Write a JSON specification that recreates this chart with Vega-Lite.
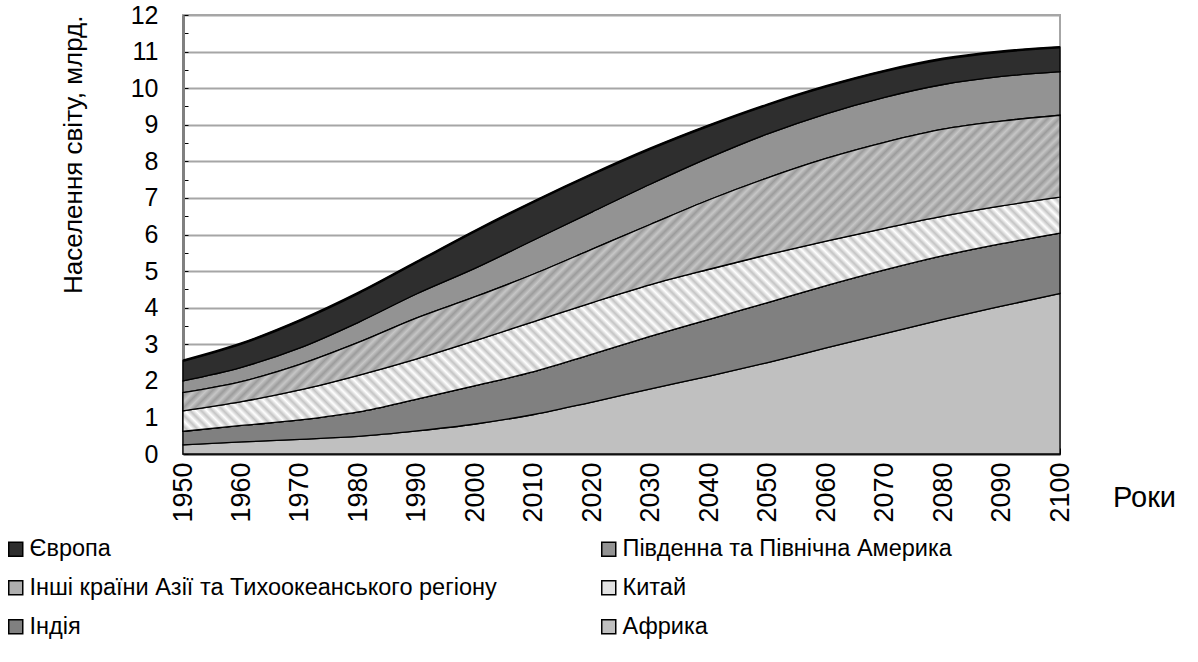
{
  "$schema": "https://vega.github.io/schema/vega-lite/v6.json",
  "width": 877,
  "height": 439,
  "autosize": {"type": "none"},
  "padding": {"left": 183, "top": 15, "right": 138, "bottom": 208},
  "background": "white",
  "config": {
    "font": "Liberation Sans",
    "view": {"stroke": "#a6a6a6", "strokeWidth": 2},
    "axis": {"labelOverlap": false}
  },
  "resolve": {"axis": {"x": "independent", "y": "independent"}},
  "data": {
    "values": [
      {"year": 1950, "Африка": 0.25, "Індія": 0.37, "Китай": 0.56, "Інші країни Азії та Тихоокеанського регіону": 0.50, "Південна та Північна Америка": 0.32, "Європа": 0.55},
      {"year": 1960, "Африка": 0.33, "Індія": 0.45, "Китай": 0.65, "Інші країни Азії та Тихоокеанського регіону": 0.55, "Південна та Північна Америка": 0.39, "Європа": 0.65},
      {"year": 1970, "Африка": 0.40, "Індія": 0.53, "Китай": 0.82, "Інші країни Азії та Тихоокеанського регіону": 0.70, "Південна та Північна Америка": 0.45, "Європа": 0.75},
      {"year": 1980, "Африка": 0.48, "Індія": 0.67, "Китай": 1.00, "Інші країни Азії та Тихоокеанського регіону": 0.90, "Південна та Північна Америка": 0.55, "Європа": 0.80},
      {"year": 1990, "Африка": 0.63, "Індія": 0.87, "Китай": 1.10, "Інші країни Азії та Тихоокеанського регіону": 1.12, "Південна та Північна Америка": 0.66, "Європа": 0.87},
      {"year": 2000, "Африка": 0.82, "Індія": 1.05, "Китай": 1.23, "Інші країни Азії та Тихоокеанського регіону": 1.20, "Південна та Північна Америка": 0.78, "Європа": 1.02},
      {"year": 2010, "Африка": 1.08, "Індія": 1.17, "Китай": 1.37, "Інші країни Азії та Тихоокеанського регіону": 1.30, "Південна та Північна Америка": 0.93, "Європа": 1.05},
      {"year": 2020, "Африка": 1.42, "Індія": 1.31, "Китай": 1.41, "Інші країни Азії та Тихоокеанського регіону": 1.46, "Південна та Північна Америка": 1.02, "Європа": 1.03},
      {"year": 2030, "Африка": 1.78, "Індія": 1.44, "Китай": 1.41, "Інші країни Азії та Тихоокеанського регіону": 1.65, "Південна та Північна Америка": 1.10, "Європа": 0.97},
      {"year": 2040, "Африка": 2.13, "Індія": 1.55, "Китай": 1.37, "Інші країни Азії та Тихоокеанського регіону": 1.90, "Південна та Північна Америка": 1.15, "Європа": 0.88},
      {"year": 2050, "Африка": 2.50, "Індія": 1.64, "Китай": 1.31, "Інші країни Азії та Тихоокеанського регіону": 2.10, "Південна та Північна Америка": 1.20, "Європа": 0.80},
      {"year": 2060, "Африка": 2.90, "Індія": 1.70, "Китай": 1.22, "Інші країни Азії та Тихоокеанського регіону": 2.26, "Південна та Північна Америка": 1.22, "Європа": 0.75},
      {"year": 2070, "Африка": 3.29, "Індія": 1.74, "Китай": 1.14, "Інші країни Азії та Тихоокеанського регіону": 2.35, "Південна та Північна Америка": 1.23, "Європа": 0.72},
      {"year": 2080, "Африка": 3.68, "Індія": 1.74, "Китай": 1.08, "Інші країни Азії та Тихоокеанського регіону": 2.38, "Південна та Північна Америка": 1.22, "Європа": 0.70},
      {"year": 2090, "Африка": 4.04, "Індія": 1.71, "Китай": 1.03, "Інші країни Азії та Тихоокеанського регіону": 2.32, "Південна та Північна Америка": 1.22, "Європа": 0.68},
      {"year": 2100, "Африка": 4.39, "Індія": 1.65, "Китай": 0.98, "Інші країни Азії та Тихоокеанського регіону": 2.24, "Південна та Північна Америка": 1.19, "Європа": 0.67}
    ]
  },
  "transform": [
    {"fold": ["Африка", "Індія", "Китай", "Інші країни Азії та Тихоокеанського регіону", "Південна та Північна Америка", "Європа"], "as": ["region", "value"]},
    {"calculate": "indexof(['Африка', 'Індія', 'Китай', 'Інші країни Азії та Тихоокеанського регіону', 'Південна та Північна Америка', 'Європа'], datum.region)", "as": "ord"}
  ],
  "layer": [
    {
      "mark": {"type": "area", "interpolate": "monotone", "stroke": "#000", "strokeWidth": 1.3},
      "encoding": {
        "x": {
          "field": "year", "type": "quantitative",
          "scale": {"domain": [1950, 2100], "nice": false, "zero": false},
          "axis": {
            "values": [1950, 1955, 1960, 1965, 1970, 1975, 1980, 1985, 1990, 1995, 2000, 2005, 2010, 2015, 2020, 2025, 2030, 2035, 2040, 2045, 2050, 2055, 2060, 2065, 2070, 2075, 2080, 2085, 2090, 2095, 2100],
            "labelExpr": "datum.value % 10 === 0 ? datum.value + '' : ''",
            "labelAngle": -90,
            "labelFontSize": 27,
            "labelColor": "#000",
            "labelPadding": 14,
            "labelFlush": false,
            "labelOverlap": false,
            "tickSize": -6,
            "tickColor": "#000",
            "tickWidth": 1,
            "domainColor": "#404040",
            "domainWidth": 2,
            "grid": false,
            "title": "Роки",
            "titleFontSize": 29,
            "titleFontWeight": "normal",
            "titleColor": "#000",
            "titleX": 961,
            "titleY": 43,
            "titleAlign": "center",
            "titleBaseline": "middle"
          }
        },
        "y": {
          "field": "value", "type": "quantitative", "stack": "zero",
          "scale": {"domain": [0, 12], "nice": false},
          "axis": {
            "values": [0, 0.5, 1, 1.5, 2, 2.5, 3, 3.5, 4, 4.5, 5, 5.5, 6, 6.5, 7, 7.5, 8, 8.5, 9, 9.5, 10, 10.5, 11, 11.5, 12],
            "labelExpr": "datum.value % 1 === 0 ? datum.value + '' : ''",
            "labelFontSize": 25,
            "labelColor": "#000",
            "labelPadding": 30,
            "labelOverlap": false,
            "grid": true,
            "gridColor": {"condition": {"test": "datum.value % 1 !== 0", "value": "rgba(0,0,0,0)"}, "value": "#a6a6a6"},
            "gridWidth": 2,
            "tickSize": -5,
            "tickColor": "#000",
            "domainColor": "#808080",
            "domainWidth": 3,
            "title": "Населення світу, млрд.",
            "titleFontSize": 26,
            "titleFontWeight": "normal",
            "titleColor": "#000",
            "titleAnchor": "end",
            "titlePadding": 44
          }
        },
        "color": {
          "field": "region", "type": "nominal",
          "scale": {
            "domain": ["Європа", "Південна та Північна Америка", "Інші країни Азії та Тихоокеанського регіону", "Китай", "Індія", "Африка"],
            "range": ["#2e2e2e", "#939393", "#afafaf", "#e2e2e2", "#808080", "#c0c0c0"]
          },
          "legend": {
            "orient": "none",
            "legendX": -179,
            "legendY": 522,
            "direction": "horizontal",
            "columns": 2,
            "title": null,
            "symbolType": "square",
            "symbolSize": 196,
            "symbolStrokeColor": "#000",
            "symbolStrokeWidth": 1.5,
            "labelFontSize": 23.5,
            "labelColor": "#000",
            "labelLimit": 700,
            "labelOffset": 2,
            "rowPadding": 14,
            "columnPadding": 100
          }
        },
        "order": {"field": "ord", "type": "quantitative"}
      }
    },
    {
      "transform": [
        {"stack": "value", "groupby": ["year"], "sort": [{"field": "ord"}], "as": ["v0", "v1"]},
        {"filter": "datum.region === 'Китай'"}
      ],
      "mark": {
        "type": "area", "interpolate": "monotone", "stroke": "#000", "strokeWidth": 1.3,
        "color": {"gradient": "linear", "x1": 0, "y1": 1, "x2": 1.1827, "y2": 0.6842, "stops": [
          {"offset": 0, "color": "#fff"}, {"offset": 0.005, "color": "#c4c4c4"}, {"offset": 0.01, "color": "#fff"}, {"offset": 0.015, "color": "#c4c4c4"}, {"offset": 0.02, "color": "#fff"}, {"offset": 0.025, "color": "#c4c4c4"}, {"offset": 0.03, "color": "#fff"}, {"offset": 0.035, "color": "#c4c4c4"}, {"offset": 0.04, "color": "#fff"}, {"offset": 0.045, "color": "#c4c4c4"},
          {"offset": 0.05, "color": "#fff"}, {"offset": 0.055, "color": "#c4c4c4"}, {"offset": 0.06, "color": "#fff"}, {"offset": 0.065, "color": "#c4c4c4"}, {"offset": 0.07, "color": "#fff"}, {"offset": 0.075, "color": "#c4c4c4"}, {"offset": 0.08, "color": "#fff"}, {"offset": 0.085, "color": "#c4c4c4"}, {"offset": 0.09, "color": "#fff"}, {"offset": 0.095, "color": "#c4c4c4"},
          {"offset": 0.1, "color": "#fff"}, {"offset": 0.105, "color": "#c4c4c4"}, {"offset": 0.11, "color": "#fff"}, {"offset": 0.115, "color": "#c4c4c4"}, {"offset": 0.12, "color": "#fff"}, {"offset": 0.125, "color": "#c4c4c4"}, {"offset": 0.13, "color": "#fff"}, {"offset": 0.135, "color": "#c4c4c4"}, {"offset": 0.14, "color": "#fff"}, {"offset": 0.145, "color": "#c4c4c4"},
          {"offset": 0.15, "color": "#fff"}, {"offset": 0.155, "color": "#c4c4c4"}, {"offset": 0.16, "color": "#fff"}, {"offset": 0.165, "color": "#c4c4c4"}, {"offset": 0.17, "color": "#fff"}, {"offset": 0.175, "color": "#c4c4c4"}, {"offset": 0.18, "color": "#fff"}, {"offset": 0.185, "color": "#c4c4c4"}, {"offset": 0.19, "color": "#fff"}, {"offset": 0.195, "color": "#c4c4c4"},
          {"offset": 0.2, "color": "#fff"}, {"offset": 0.205, "color": "#c4c4c4"}, {"offset": 0.21, "color": "#fff"}, {"offset": 0.215, "color": "#c4c4c4"}, {"offset": 0.22, "color": "#fff"}, {"offset": 0.225, "color": "#c4c4c4"}, {"offset": 0.23, "color": "#fff"}, {"offset": 0.235, "color": "#c4c4c4"}, {"offset": 0.24, "color": "#fff"}, {"offset": 0.245, "color": "#c4c4c4"},
          {"offset": 0.25, "color": "#fff"}, {"offset": 0.255, "color": "#c4c4c4"}, {"offset": 0.26, "color": "#fff"}, {"offset": 0.265, "color": "#c4c4c4"}, {"offset": 0.27, "color": "#fff"}, {"offset": 0.275, "color": "#c4c4c4"}, {"offset": 0.28, "color": "#fff"}, {"offset": 0.285, "color": "#c4c4c4"}, {"offset": 0.29, "color": "#fff"}, {"offset": 0.295, "color": "#c4c4c4"},
          {"offset": 0.3, "color": "#fff"}, {"offset": 0.305, "color": "#c4c4c4"}, {"offset": 0.31, "color": "#fff"}, {"offset": 0.315, "color": "#c4c4c4"}, {"offset": 0.32, "color": "#fff"}, {"offset": 0.325, "color": "#c4c4c4"}, {"offset": 0.33, "color": "#fff"}, {"offset": 0.335, "color": "#c4c4c4"}, {"offset": 0.34, "color": "#fff"}, {"offset": 0.345, "color": "#c4c4c4"},
          {"offset": 0.35, "color": "#fff"}, {"offset": 0.355, "color": "#c4c4c4"}, {"offset": 0.36, "color": "#fff"}, {"offset": 0.365, "color": "#c4c4c4"}, {"offset": 0.37, "color": "#fff"}, {"offset": 0.375, "color": "#c4c4c4"}, {"offset": 0.38, "color": "#fff"}, {"offset": 0.385, "color": "#c4c4c4"}, {"offset": 0.39, "color": "#fff"}, {"offset": 0.395, "color": "#c4c4c4"},
          {"offset": 0.4, "color": "#fff"}, {"offset": 0.405, "color": "#c4c4c4"}, {"offset": 0.41, "color": "#fff"}, {"offset": 0.415, "color": "#c4c4c4"}, {"offset": 0.42, "color": "#fff"}, {"offset": 0.425, "color": "#c4c4c4"}, {"offset": 0.43, "color": "#fff"}, {"offset": 0.435, "color": "#c4c4c4"}, {"offset": 0.44, "color": "#fff"}, {"offset": 0.445, "color": "#c4c4c4"},
          {"offset": 0.45, "color": "#fff"}, {"offset": 0.455, "color": "#c4c4c4"}, {"offset": 0.46, "color": "#fff"}, {"offset": 0.465, "color": "#c4c4c4"}, {"offset": 0.47, "color": "#fff"}, {"offset": 0.475, "color": "#c4c4c4"}, {"offset": 0.48, "color": "#fff"}, {"offset": 0.485, "color": "#c4c4c4"}, {"offset": 0.49, "color": "#fff"}, {"offset": 0.495, "color": "#c4c4c4"},
          {"offset": 0.5, "color": "#fff"}, {"offset": 0.505, "color": "#c4c4c4"}, {"offset": 0.51, "color": "#fff"}, {"offset": 0.515, "color": "#c4c4c4"}, {"offset": 0.52, "color": "#fff"}, {"offset": 0.525, "color": "#c4c4c4"}, {"offset": 0.53, "color": "#fff"}, {"offset": 0.535, "color": "#c4c4c4"}, {"offset": 0.54, "color": "#fff"}, {"offset": 0.545, "color": "#c4c4c4"},
          {"offset": 0.55, "color": "#fff"}, {"offset": 0.555, "color": "#c4c4c4"}, {"offset": 0.56, "color": "#fff"}, {"offset": 0.565, "color": "#c4c4c4"}, {"offset": 0.57, "color": "#fff"}, {"offset": 0.575, "color": "#c4c4c4"}, {"offset": 0.58, "color": "#fff"}, {"offset": 0.585, "color": "#c4c4c4"}, {"offset": 0.59, "color": "#fff"}, {"offset": 0.595, "color": "#c4c4c4"},
          {"offset": 0.6, "color": "#fff"}, {"offset": 0.605, "color": "#c4c4c4"}, {"offset": 0.61, "color": "#fff"}, {"offset": 0.615, "color": "#c4c4c4"}, {"offset": 0.62, "color": "#fff"}, {"offset": 0.625, "color": "#c4c4c4"}, {"offset": 0.63, "color": "#fff"}, {"offset": 0.635, "color": "#c4c4c4"}, {"offset": 0.64, "color": "#fff"}, {"offset": 0.645, "color": "#c4c4c4"},
          {"offset": 0.65, "color": "#fff"}, {"offset": 0.655, "color": "#c4c4c4"}, {"offset": 0.66, "color": "#fff"}, {"offset": 0.665, "color": "#c4c4c4"}, {"offset": 0.67, "color": "#fff"}, {"offset": 0.675, "color": "#c4c4c4"}, {"offset": 0.68, "color": "#fff"}, {"offset": 0.685, "color": "#c4c4c4"}, {"offset": 0.69, "color": "#fff"}, {"offset": 0.695, "color": "#c4c4c4"},
          {"offset": 0.7, "color": "#fff"}, {"offset": 0.705, "color": "#c4c4c4"}, {"offset": 0.71, "color": "#fff"}, {"offset": 0.715, "color": "#c4c4c4"}, {"offset": 0.72, "color": "#fff"}, {"offset": 0.725, "color": "#c4c4c4"}, {"offset": 0.73, "color": "#fff"}, {"offset": 0.735, "color": "#c4c4c4"}, {"offset": 0.74, "color": "#fff"}, {"offset": 0.745, "color": "#c4c4c4"},
          {"offset": 0.75, "color": "#fff"}, {"offset": 0.755, "color": "#c4c4c4"}, {"offset": 0.76, "color": "#fff"}, {"offset": 0.765, "color": "#c4c4c4"}, {"offset": 0.77, "color": "#fff"}, {"offset": 0.775, "color": "#c4c4c4"}, {"offset": 0.78, "color": "#fff"}, {"offset": 0.785, "color": "#c4c4c4"}, {"offset": 0.79, "color": "#fff"}, {"offset": 0.795, "color": "#c4c4c4"},
          {"offset": 0.8, "color": "#fff"}, {"offset": 0.805, "color": "#c4c4c4"}, {"offset": 0.81, "color": "#fff"}, {"offset": 0.815, "color": "#c4c4c4"}, {"offset": 0.82, "color": "#fff"}, {"offset": 0.825, "color": "#c4c4c4"}, {"offset": 0.83, "color": "#fff"}, {"offset": 0.835, "color": "#c4c4c4"}, {"offset": 0.84, "color": "#fff"}, {"offset": 0.845, "color": "#c4c4c4"},
          {"offset": 0.85, "color": "#fff"}, {"offset": 0.855, "color": "#c4c4c4"}, {"offset": 0.86, "color": "#fff"}, {"offset": 0.865, "color": "#c4c4c4"}, {"offset": 0.87, "color": "#fff"}, {"offset": 0.875, "color": "#c4c4c4"}, {"offset": 0.88, "color": "#fff"}, {"offset": 0.885, "color": "#c4c4c4"}, {"offset": 0.89, "color": "#fff"}, {"offset": 0.895, "color": "#c4c4c4"},
          {"offset": 0.9, "color": "#fff"}, {"offset": 0.905, "color": "#c4c4c4"}, {"offset": 0.91, "color": "#fff"}, {"offset": 0.915, "color": "#c4c4c4"}, {"offset": 0.92, "color": "#fff"}, {"offset": 0.925, "color": "#c4c4c4"}, {"offset": 0.93, "color": "#fff"}, {"offset": 0.935, "color": "#c4c4c4"}, {"offset": 0.94, "color": "#fff"}, {"offset": 0.945, "color": "#c4c4c4"},
          {"offset": 0.95, "color": "#fff"}, {"offset": 0.955, "color": "#c4c4c4"}, {"offset": 0.96, "color": "#fff"}, {"offset": 0.965, "color": "#c4c4c4"}, {"offset": 0.97, "color": "#fff"}, {"offset": 0.975, "color": "#c4c4c4"}, {"offset": 0.98, "color": "#fff"}, {"offset": 0.985, "color": "#c4c4c4"}, {"offset": 0.99, "color": "#fff"}, {"offset": 0.995, "color": "#c4c4c4"},
          {"offset": 1, "color": "#fff"}
        ]}
      },
      "encoding": {
        "x": {"field": "year", "type": "quantitative", "axis": null},
        "y": {"field": "v1", "type": "quantitative", "axis": null},
        "y2": {"field": "v0"}
      }
    },
    {
      "transform": [
        {"stack": "value", "groupby": ["year"], "sort": [{"field": "ord"}], "as": ["v0", "v1"]},
        {"filter": "datum.region === 'Інші країни Азії та Тихоокеанського регіону'"}
      ],
      "mark": {
        "type": "area", "interpolate": "monotone", "stroke": "#000", "strokeWidth": 1.3,
        "color": {"gradient": "linear", "x1": 0, "y1": 0, "x2": 1.2007, "y2": 0.4052, "stops": [
          {"offset": 0, "color": "#9c9c9c"}, {"offset": 0.005, "color": "#c6c6c6"}, {"offset": 0.01, "color": "#9c9c9c"}, {"offset": 0.015, "color": "#c6c6c6"}, {"offset": 0.02, "color": "#9c9c9c"}, {"offset": 0.025, "color": "#c6c6c6"}, {"offset": 0.03, "color": "#9c9c9c"}, {"offset": 0.035, "color": "#c6c6c6"}, {"offset": 0.04, "color": "#9c9c9c"}, {"offset": 0.045, "color": "#c6c6c6"},
          {"offset": 0.05, "color": "#9c9c9c"}, {"offset": 0.055, "color": "#c6c6c6"}, {"offset": 0.06, "color": "#9c9c9c"}, {"offset": 0.065, "color": "#c6c6c6"}, {"offset": 0.07, "color": "#9c9c9c"}, {"offset": 0.075, "color": "#c6c6c6"}, {"offset": 0.08, "color": "#9c9c9c"}, {"offset": 0.085, "color": "#c6c6c6"}, {"offset": 0.09, "color": "#9c9c9c"}, {"offset": 0.095, "color": "#c6c6c6"},
          {"offset": 0.1, "color": "#9c9c9c"}, {"offset": 0.105, "color": "#c6c6c6"}, {"offset": 0.11, "color": "#9c9c9c"}, {"offset": 0.115, "color": "#c6c6c6"}, {"offset": 0.12, "color": "#9c9c9c"}, {"offset": 0.125, "color": "#c6c6c6"}, {"offset": 0.13, "color": "#9c9c9c"}, {"offset": 0.135, "color": "#c6c6c6"}, {"offset": 0.14, "color": "#9c9c9c"}, {"offset": 0.145, "color": "#c6c6c6"},
          {"offset": 0.15, "color": "#9c9c9c"}, {"offset": 0.155, "color": "#c6c6c6"}, {"offset": 0.16, "color": "#9c9c9c"}, {"offset": 0.165, "color": "#c6c6c6"}, {"offset": 0.17, "color": "#9c9c9c"}, {"offset": 0.175, "color": "#c6c6c6"}, {"offset": 0.18, "color": "#9c9c9c"}, {"offset": 0.185, "color": "#c6c6c6"}, {"offset": 0.19, "color": "#9c9c9c"}, {"offset": 0.195, "color": "#c6c6c6"},
          {"offset": 0.2, "color": "#9c9c9c"}, {"offset": 0.205, "color": "#c6c6c6"}, {"offset": 0.21, "color": "#9c9c9c"}, {"offset": 0.215, "color": "#c6c6c6"}, {"offset": 0.22, "color": "#9c9c9c"}, {"offset": 0.225, "color": "#c6c6c6"}, {"offset": 0.23, "color": "#9c9c9c"}, {"offset": 0.235, "color": "#c6c6c6"}, {"offset": 0.24, "color": "#9c9c9c"}, {"offset": 0.245, "color": "#c6c6c6"},
          {"offset": 0.25, "color": "#9c9c9c"}, {"offset": 0.255, "color": "#c6c6c6"}, {"offset": 0.26, "color": "#9c9c9c"}, {"offset": 0.265, "color": "#c6c6c6"}, {"offset": 0.27, "color": "#9c9c9c"}, {"offset": 0.275, "color": "#c6c6c6"}, {"offset": 0.28, "color": "#9c9c9c"}, {"offset": 0.285, "color": "#c6c6c6"}, {"offset": 0.29, "color": "#9c9c9c"}, {"offset": 0.295, "color": "#c6c6c6"},
          {"offset": 0.3, "color": "#9c9c9c"}, {"offset": 0.305, "color": "#c6c6c6"}, {"offset": 0.31, "color": "#9c9c9c"}, {"offset": 0.315, "color": "#c6c6c6"}, {"offset": 0.32, "color": "#9c9c9c"}, {"offset": 0.325, "color": "#c6c6c6"}, {"offset": 0.33, "color": "#9c9c9c"}, {"offset": 0.335, "color": "#c6c6c6"}, {"offset": 0.34, "color": "#9c9c9c"}, {"offset": 0.345, "color": "#c6c6c6"},
          {"offset": 0.35, "color": "#9c9c9c"}, {"offset": 0.355, "color": "#c6c6c6"}, {"offset": 0.36, "color": "#9c9c9c"}, {"offset": 0.365, "color": "#c6c6c6"}, {"offset": 0.37, "color": "#9c9c9c"}, {"offset": 0.375, "color": "#c6c6c6"}, {"offset": 0.38, "color": "#9c9c9c"}, {"offset": 0.385, "color": "#c6c6c6"}, {"offset": 0.39, "color": "#9c9c9c"}, {"offset": 0.395, "color": "#c6c6c6"},
          {"offset": 0.4, "color": "#9c9c9c"}, {"offset": 0.405, "color": "#c6c6c6"}, {"offset": 0.41, "color": "#9c9c9c"}, {"offset": 0.415, "color": "#c6c6c6"}, {"offset": 0.42, "color": "#9c9c9c"}, {"offset": 0.425, "color": "#c6c6c6"}, {"offset": 0.43, "color": "#9c9c9c"}, {"offset": 0.435, "color": "#c6c6c6"}, {"offset": 0.44, "color": "#9c9c9c"}, {"offset": 0.445, "color": "#c6c6c6"},
          {"offset": 0.45, "color": "#9c9c9c"}, {"offset": 0.455, "color": "#c6c6c6"}, {"offset": 0.46, "color": "#9c9c9c"}, {"offset": 0.465, "color": "#c6c6c6"}, {"offset": 0.47, "color": "#9c9c9c"}, {"offset": 0.475, "color": "#c6c6c6"}, {"offset": 0.48, "color": "#9c9c9c"}, {"offset": 0.485, "color": "#c6c6c6"}, {"offset": 0.49, "color": "#9c9c9c"}, {"offset": 0.495, "color": "#c6c6c6"},
          {"offset": 0.5, "color": "#9c9c9c"}, {"offset": 0.505, "color": "#c6c6c6"}, {"offset": 0.51, "color": "#9c9c9c"}, {"offset": 0.515, "color": "#c6c6c6"}, {"offset": 0.52, "color": "#9c9c9c"}, {"offset": 0.525, "color": "#c6c6c6"}, {"offset": 0.53, "color": "#9c9c9c"}, {"offset": 0.535, "color": "#c6c6c6"}, {"offset": 0.54, "color": "#9c9c9c"}, {"offset": 0.545, "color": "#c6c6c6"},
          {"offset": 0.55, "color": "#9c9c9c"}, {"offset": 0.555, "color": "#c6c6c6"}, {"offset": 0.56, "color": "#9c9c9c"}, {"offset": 0.565, "color": "#c6c6c6"}, {"offset": 0.57, "color": "#9c9c9c"}, {"offset": 0.575, "color": "#c6c6c6"}, {"offset": 0.58, "color": "#9c9c9c"}, {"offset": 0.585, "color": "#c6c6c6"}, {"offset": 0.59, "color": "#9c9c9c"}, {"offset": 0.595, "color": "#c6c6c6"},
          {"offset": 0.6, "color": "#9c9c9c"}, {"offset": 0.605, "color": "#c6c6c6"}, {"offset": 0.61, "color": "#9c9c9c"}, {"offset": 0.615, "color": "#c6c6c6"}, {"offset": 0.62, "color": "#9c9c9c"}, {"offset": 0.625, "color": "#c6c6c6"}, {"offset": 0.63, "color": "#9c9c9c"}, {"offset": 0.635, "color": "#c6c6c6"}, {"offset": 0.64, "color": "#9c9c9c"}, {"offset": 0.645, "color": "#c6c6c6"},
          {"offset": 0.65, "color": "#9c9c9c"}, {"offset": 0.655, "color": "#c6c6c6"}, {"offset": 0.66, "color": "#9c9c9c"}, {"offset": 0.665, "color": "#c6c6c6"}, {"offset": 0.67, "color": "#9c9c9c"}, {"offset": 0.675, "color": "#c6c6c6"}, {"offset": 0.68, "color": "#9c9c9c"}, {"offset": 0.685, "color": "#c6c6c6"}, {"offset": 0.69, "color": "#9c9c9c"}, {"offset": 0.695, "color": "#c6c6c6"},
          {"offset": 0.7, "color": "#9c9c9c"}, {"offset": 0.705, "color": "#c6c6c6"}, {"offset": 0.71, "color": "#9c9c9c"}, {"offset": 0.715, "color": "#c6c6c6"}, {"offset": 0.72, "color": "#9c9c9c"}, {"offset": 0.725, "color": "#c6c6c6"}, {"offset": 0.73, "color": "#9c9c9c"}, {"offset": 0.735, "color": "#c6c6c6"}, {"offset": 0.74, "color": "#9c9c9c"}, {"offset": 0.745, "color": "#c6c6c6"},
          {"offset": 0.75, "color": "#9c9c9c"}, {"offset": 0.755, "color": "#c6c6c6"}, {"offset": 0.76, "color": "#9c9c9c"}, {"offset": 0.765, "color": "#c6c6c6"}, {"offset": 0.77, "color": "#9c9c9c"}, {"offset": 0.775, "color": "#c6c6c6"}, {"offset": 0.78, "color": "#9c9c9c"}, {"offset": 0.785, "color": "#c6c6c6"}, {"offset": 0.79, "color": "#9c9c9c"}, {"offset": 0.795, "color": "#c6c6c6"},
          {"offset": 0.8, "color": "#9c9c9c"}, {"offset": 0.805, "color": "#c6c6c6"}, {"offset": 0.81, "color": "#9c9c9c"}, {"offset": 0.815, "color": "#c6c6c6"}, {"offset": 0.82, "color": "#9c9c9c"}, {"offset": 0.825, "color": "#c6c6c6"}, {"offset": 0.83, "color": "#9c9c9c"}, {"offset": 0.835, "color": "#c6c6c6"}, {"offset": 0.84, "color": "#9c9c9c"}, {"offset": 0.845, "color": "#c6c6c6"},
          {"offset": 0.85, "color": "#9c9c9c"}, {"offset": 0.855, "color": "#c6c6c6"}, {"offset": 0.86, "color": "#9c9c9c"}, {"offset": 0.865, "color": "#c6c6c6"}, {"offset": 0.87, "color": "#9c9c9c"}, {"offset": 0.875, "color": "#c6c6c6"}, {"offset": 0.88, "color": "#9c9c9c"}, {"offset": 0.885, "color": "#c6c6c6"}, {"offset": 0.89, "color": "#9c9c9c"}, {"offset": 0.895, "color": "#c6c6c6"},
          {"offset": 0.9, "color": "#9c9c9c"}, {"offset": 0.905, "color": "#c6c6c6"}, {"offset": 0.91, "color": "#9c9c9c"}, {"offset": 0.915, "color": "#c6c6c6"}, {"offset": 0.92, "color": "#9c9c9c"}, {"offset": 0.925, "color": "#c6c6c6"}, {"offset": 0.93, "color": "#9c9c9c"}, {"offset": 0.935, "color": "#c6c6c6"}, {"offset": 0.94, "color": "#9c9c9c"}, {"offset": 0.945, "color": "#c6c6c6"},
          {"offset": 0.95, "color": "#9c9c9c"}, {"offset": 0.955, "color": "#c6c6c6"}, {"offset": 0.96, "color": "#9c9c9c"}, {"offset": 0.965, "color": "#c6c6c6"}, {"offset": 0.97, "color": "#9c9c9c"}, {"offset": 0.975, "color": "#c6c6c6"}, {"offset": 0.98, "color": "#9c9c9c"}, {"offset": 0.985, "color": "#c6c6c6"}, {"offset": 0.99, "color": "#9c9c9c"}, {"offset": 0.995, "color": "#c6c6c6"},
          {"offset": 1, "color": "#9c9c9c"}
        ]}
      },
      "encoding": {
        "x": {"field": "year", "type": "quantitative", "axis": null},
        "y": {"field": "v1", "type": "quantitative", "axis": null},
        "y2": {"field": "v0"}
      }
    },
    {
      "transform": [
        {"stack": "value", "groupby": ["year"], "sort": [{"field": "ord"}], "as": ["v0", "v1"]},
        {"filter": "datum.region === 'Європа'"}
      ],
      "mark": {"type": "line", "interpolate": "monotone", "color": "#000", "strokeWidth": 2.6},
      "encoding": {
        "x": {"field": "year", "type": "quantitative", "axis": null},
        "y": {"field": "v1", "type": "quantitative", "axis": null}
      }
    }
  ]
}
